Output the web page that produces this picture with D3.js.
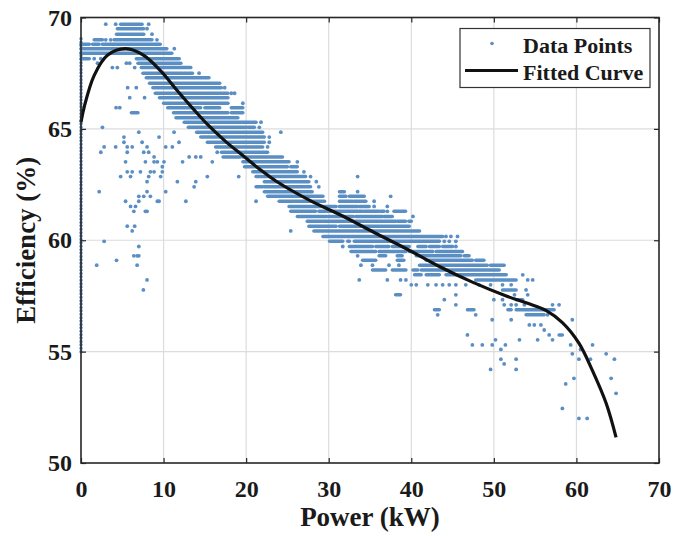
<!DOCTYPE html>
<html lang="en">
<head>
    <meta charset="UTF-8">
    <title>Efficiency vs Power</title>
    <script src="https://d3js.org/d3.v7.min.js"></script>
    <style>
        body { margin: 0; background: #fff; }
        text {
            font-family: "Liberation Serif", "Times New Roman", serif;
            font-weight: bold;
            fill: #1a1a1a;
        }
        .grid line { stroke: #dcdcdc; stroke-width: 1.2px; }
        .axis path { display: none; }
        .axis line { stroke: #262626; stroke-width: 1.2px; }
    </style>
</head>
<body>
    <div id="chart"></div>

    <script>
        // Axis ticks
        const xTicks = [0, 10, 20, 30, 40, 50, 60, 70];
        const yTicks = [50, 55, 60, 65, 70];

        // Fitted curve
        const curvePower = [0, 0.4, 1.6, 3.2, 5.4, 7.6, 9.65, 11.7, 13.7, 15.5, 17.5, 19.6, 21.6, 23.6,
                            27.65, 31.5, 35.5, 39.4, 43.4, 47.4, 51.5, 54.0, 56.3, 58.3, 60.3, 61.9, 63.6, 64.8];
        const curveEff = [65.3, 66.0, 67.4, 68.3, 68.6, 68.3, 67.6, 66.7, 65.85, 65.13, 64.44, 63.8, 63.2, 62.66,
                          61.8, 61.12, 60.35, 59.62, 58.82, 58.12, 57.5, 57.18, 56.85, 56.3, 55.38, 54.18, 52.68, 51.15];

        // Data points: efficiency rows, dense runs [from, to] (kW) and single points (kW)
        const rowEff = [69.7, 69.5, 69.25, 69.0, 68.8, 68.6, 68.4, 68.15, 67.95, 67.75, 67.5, 67.3, 67.05, 66.85,
                        66.6, 66.4, 66.15, 65.95, 65.72, 65.5, 65.3, 65.07, 64.85, 64.63, 64.4, 64.19, 63.95, 63.74,
                        63.52, 63.3, 63.07, 62.86, 62.63, 62.4, 62.18, 61.97, 61.75, 61.52, 61.3, 61.07, 60.85, 60.63,
                        60.42, 60.17, 59.95, 59.72, 59.5, 59.3, 59.1, 58.88, 58.67, 58.45, 58.22, 58.0, 57.77, 57.55,
                        57.33, 57.1, 56.88, 56.65, 56.43, 56.2, 55.97, 55.75, 55.53, 55.3, 55.1, 54.9, 54.66, 54.45,
                        54.2, 53.8, 53.55, 53.13, 52.45, 52.0];

        const rowRuns = [
            [[4.8, 7.4]],
            [[4.4, 7.6]],
            [[4.3, 7.6]],
            [[1.6, 2.6], [4.0, 8.6]],
            [[0, 1.0], [1.4, 2.2], [2.6, 9.6]],
            [[0, 10.4]],
            [[0, 11.0]],
            [[0, 1.0], [6.7, 11.9]],
            [[6.9, 12.1]],
            [[7.3, 13.3]],
            [[7.5, 13.5]],
            [[7.9, 15.5]],
            [[8.3, 16.8]],
            [[8.7, 17.0]],
            [[9.0, 17.8]],
            [[9.5, 17.8]],
            [[10.0, 17.8]],
            [[10.5, 14.5], [15.0, 16.8], [18.2, 19.6]],
            [[6.1, 6.9], [11.2, 17.8], [18.2, 19.6]],
            [[11.5, 19.0]],
            [[12.5, 21.2]],
            [[13.0, 20.0], [20.2, 21.0]],
            [[14.0, 22.0]],
            [[14.5, 22.2]],
            [[15.3, 22.2]],
            [[16.3, 22.0]],
            [[17.0, 22.6]],
            [[17.2, 19.3], [19.6, 24.4]],
            [[19.6, 25.2]],
            [[19.8, 25.0], [25.4, 26.2]],
            [[20.8, 26.2]],
            [[21.2, 27.2]],
            [[22.2, 27.6]],
            [[21.2, 22.0], [22.2, 27.8]],
            [[22.2, 28.0], [31.3, 31.9]],
            [[22.6, 29.3], [31.3, 32.1], [32.5, 34.3]],
            [[24.0, 29.5], [31.3, 32.9], [33.1, 34.5]],
            [[25.2, 30.9], [31.3, 33.5], [33.7, 34.9]],
            [[25.4, 28.4], [28.8, 34.1], [34.3, 36.1], [36.3, 36.7], [37.9, 39.3]],
            [[26.2, 29.8], [30.0, 33.0], [33.3, 36.5], [36.7, 37.7]],
            [[27.4, 32.0], [32.2, 38.1], [38.3, 39.3], [39.7, 40.0]],
            [[27.6, 30.9], [31.3, 39.75]],
            [[28.2, 41.0]],
            [[29.3, 43.8]],
            [[30.1, 31.7], [32.3, 32.5], [33.1, 43.4]],
            [[32.5, 35.3], [35.7, 37.3], [37.7, 39.75], [40.8, 41.8], [42.2, 43.4], [43.8, 45.0]],
            [[32.7, 35.7], [36.1, 39.35], [39.75, 42.6], [43.0, 46.2]],
            [[36.1, 36.9], [38.3, 38.9], [40.6, 46.0], [46.4, 47.0]],
            [[34.1, 35.7], [38.3, 39.1], [41.8, 47.4], [47.8, 48.8]],
            [[41.0, 49.2], [49.6, 51.25]],
            [[35.3, 36.9], [37.7, 39.35], [40.2, 40.8], [41.2, 44.6], [44.8, 50.65]],
            [[40.4, 41.2], [41.8, 43.4], [44.2, 51.5]],
            [[47.8, 52.7]],
            [],
            [[51.05, 52.7]],
            [[38.1, 38.7]],
            [[52.7, 53.5]],
            [],
            [[42.8, 43.4], [46.8, 47.6], [51.7, 52.1], [52.7, 57.3]],
            [[53.9, 56.1]],
            [], [], [],
            [[57.9, 58.3]],
            [], [], [], [], [], [], [], [], [], [], [], []
        ];

        const rowDots = [
            [3.0, 4.2, 8.2],
            [8.0],
            [8.6],
            [3.0, 3.6, 9.2],
            [],
            [11.3],
            [],
            [1.6, 2.4],
            [2.0, 5.5, 5.9],
            [3.8, 4.4, 6.5],
            [14.3],
            [],
            [],
            [5.65, 6.7, 17.4],
            [18.2, 18.6],
            [5.9, 7.7],
            [19.6],
            [4.25, 4.7],
            [],
            [],
            [21.8],
            [2.6, 21.6],
            [7.0, 11.27, 24.2],
            [5.2, 9.45, 22.8],
            [5.2, 7.4, 11.87, 22.8],
            [2.8, 4.2, 5.6, 6.2, 8.0, 10.26, 11.06, 22.6],
            [2.4, 5.6, 7.6, 8.2, 16.5],
            [8.85, 13.1, 13.9, 14.5],
            [5.4, 7.8, 8.85, 9.25, 10.05, 12.3, 15.9, 26.2],
            [9.85],
            [5.6, 6.2, 7.2, 8.4, 8.85, 9.85, 27.0],
            [4.8, 6.0, 8.2, 9.65, 15.3, 19.1, 27.8, 33.5],
            [8.0, 11.67, 13.9, 28.5],
            [13.7, 28.8],
            [2.2, 8.0, 10.26, 33.5],
            [7.0, 7.6, 8.4, 37.5],
            [5.4, 7.0, 9.25, 9.45, 12.7, 21.2, 35.5],
            [6.0, 6.6, 35.5, 37.1],
            [6.4, 7.8, 8.0, 37.1],
            [40.2],
            [],
            [5.6, 6.5],
            [6.2, 25.4],
            [44.2, 44.8, 45.6],
            [2.8, 44.0, 44.6, 45.4],
            [7.0, 31.7, 45.4],
            [],
            [6.4, 6.8, 7.0, 33.5],
            [4.3],
            [1.9, 6.8, 33.9, 35.3, 37.3, 38.5],
            [],
            [53.5],
            [8.0, 33.7, 37.1, 38.7, 39.35, 54.1, 54.7],
            [40.0, 40.6, 42.0, 43.0, 43.8, 44.6, 45.4, 46.6, 48.2, 49.6, 51.05, 52.1],
            [7.55, 53.9],
            [45.4, 52.5, 54.1],
            [44.0, 50.0, 51.05],
            [45.4, 51.25, 52.1, 52.7, 53.7, 57.1, 57.9],
            [],
            [43.2, 47.8, 56.5],
            [49.8, 52.1, 59.5],
            [54.3, 54.9, 55.7],
            [56.1],
            [46.8, 56.7],
            [50.2, 53.1, 55.3, 57.1],
            [47.4, 48.6, 49.8, 51.4, 59.3, 61.95],
            [50.85, 60.5],
            [59.5, 63.6],
            [50.85, 52.7, 60.3, 61.7, 64.6],
            [51.25],
            [49.6, 52.7],
            [59.7, 64.2],
            [58.7],
            [64.8],
            [58.3],
            [60.3, 61.3]
        ];

        // Points logged at 0 kW span this efficiency range
        const zeroPowerEff = [55.0, 69.1];

        const width = 688, height = 536;
        const plotLeft = 81, plotRight = 659, plotTop = 17.5, plotBottom = 463;
        const dotColor = '#5b8fc3';

        const svg = d3.select('#chart')
                      .append('svg')
                      .attr('width', width)
                      .attr('height', height);

        const x = d3.scaleLinear().domain([0, 70]).range([plotLeft, plotRight]);
        const y = d3.scaleLinear().domain([50, 70]).range([plotBottom, plotTop]);

        // Grid
        const grid = svg.append('g').attr('class', 'grid');
        grid.selectAll('.gx')
            .data(xTicks.slice(1, -1))
            .enter().append('line')
            .attr('x1', d => x(d)).attr('x2', d => x(d))
            .attr('y1', plotTop).attr('y2', plotBottom);
        grid.selectAll('.gy')
            .data(yTicks.slice(1, -1))
            .enter().append('line')
            .attr('y1', d => y(d)).attr('y2', d => y(d))
            .attr('x1', plotLeft).attr('x2', plotRight);

        // Scatter: dense runs, single points, and the 0 kW column
        const pts = svg.append('g');
        rowEff.forEach((e, i) => {
            pts.selectAll(null)
               .data(rowRuns[i])
               .enter().append('line')
               .attr('x1', d => x(d[0]))
               .attr('x2', d => x(d[1]))
               .attr('y1', y(e))
               .attr('y2', y(e))
               .attr('stroke', dotColor)
               .attr('stroke-width', 3.5)
               .attr('stroke-linecap', 'round');
            pts.selectAll(null)
               .data(rowDots[i])
               .enter().append('circle')
               .attr('cx', d => x(d))
               .attr('cy', y(e))
               .attr('r', 1.9)
               .attr('fill', dotColor);
        });
        pts.append('line')
           .attr('x1', x(0)).attr('x2', x(0))
           .attr('y1', y(zeroPowerEff[0])).attr('y2', y(zeroPowerEff[1]))
           .attr('stroke', dotColor)
           .attr('stroke-width', 3.5)
           .attr('stroke-linecap', 'round')
           .attr('stroke-dasharray', '0 3.4');

        // Fitted curve
        const line = d3.line()
                       .x(d => x(d[0]))
                       .y(d => y(d[1]))
                       .curve(d3.curveCatmullRom.alpha(0.5));
        svg.append('path')
           .datum(d3.zip(curvePower, curveEff))
           .attr('d', line)
           .attr('fill', 'none')
           .attr('stroke', '#111')
           .attr('stroke-width', 3.2);

        // Axes with inward ticks on all four sides
        svg.append('g')
           .attr('class', 'axis')
           .attr('transform', `translate(0,${plotBottom})`)
           .call(d3.axisBottom(x).tickValues(xTicks).tickSize(-5).tickPadding(17))
           .selectAll('text').style('font-size', '24px');
        svg.append('g')
           .attr('class', 'axis')
           .attr('transform', `translate(0,${plotTop})`)
           .call(d3.axisTop(x).tickValues(xTicks).tickSize(-5).tickFormat(''));
        svg.append('g')
           .attr('class', 'axis')
           .attr('transform', `translate(${plotLeft},0)`)
           .call(d3.axisLeft(y).tickValues(yTicks).tickSize(-5).tickPadding(9))
           .selectAll('text').style('font-size', '24px');
        svg.append('g')
           .attr('class', 'axis')
           .attr('transform', `translate(${plotRight},0)`)
           .call(d3.axisRight(y).tickValues(yTicks).tickSize(-5).tickFormat(''));

        svg.append('rect')
           .attr('x', plotLeft).attr('y', plotTop)
           .attr('width', plotRight - plotLeft).attr('height', plotBottom - plotTop)
           .attr('fill', 'none')
           .attr('stroke', '#262626')
           .attr('stroke-width', 1.6);

        // Axis titles
        svg.append('text')
           .attr('x', (plotLeft + plotRight) / 2)
           .attr('y', 526)
           .attr('text-anchor', 'middle')
           .style('font-size', '27px')
           .text('Power (kW)');
        svg.append('text')
           .attr('transform', `translate(35,${(plotTop + plotBottom) / 2}) rotate(-90)`)
           .attr('text-anchor', 'middle')
           .style('font-size', '27px')
           .text('Efficiency (%)');

        // Legend
        const legend = svg.append('g');
        legend.append('rect')
              .attr('x', 460).attr('y', 28.5)
              .attr('width', 190).attr('height', 59)
              .attr('fill', '#fff')
              .attr('stroke', '#333')
              .attr('stroke-width', 1.2);
        legend.append('circle')
              .attr('cx', 492).attr('cy', 43.5)
              .attr('r', 1.8)
              .attr('fill', dotColor);
        legend.append('line')
              .attr('x1', 465).attr('x2', 518)
              .attr('y1', 70.5).attr('y2', 70.5)
              .attr('stroke', '#111')
              .attr('stroke-width', 3.2);
        legend.append('text')
              .attr('x', 523).attr('y', 52.5)
              .style('font-size', '22px')
              .text('Data Points');
        legend.append('text')
              .attr('x', 523).attr('y', 79.5)
              .style('font-size', '22px')
              .text('Fitted Curve');
    </script>
</body>
</html>
